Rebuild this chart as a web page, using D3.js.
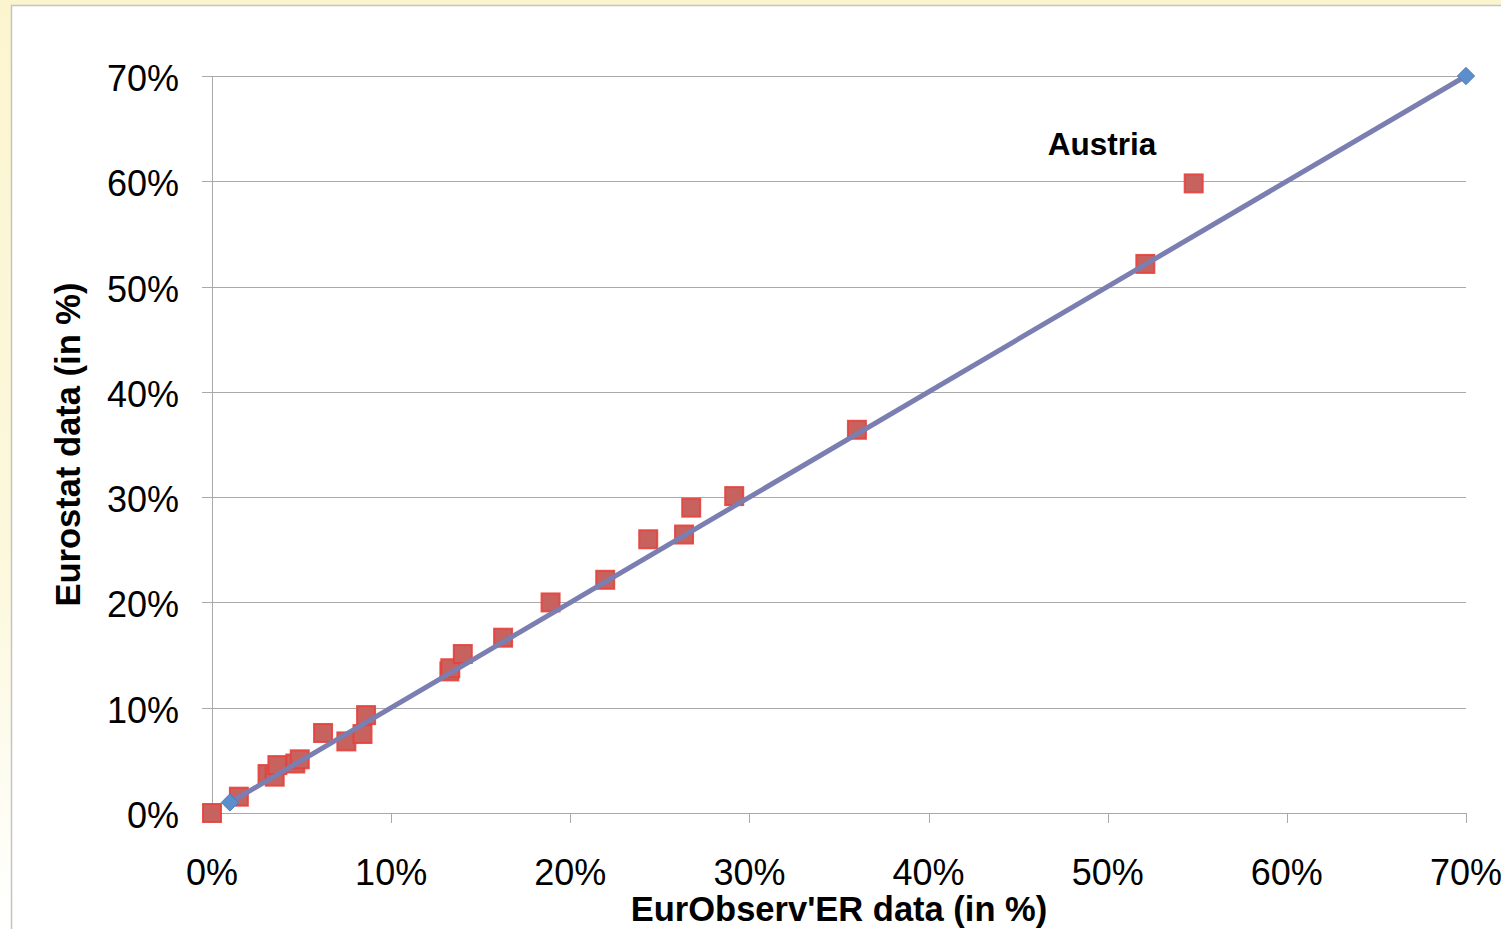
<!DOCTYPE html>
<html>
<head>
<meta charset="utf-8">
<script src="https://cdn.jsdelivr.net/npm/d3@7"></script>
<style>
  html, body { margin: 0; padding: 0; background: #fff; }
  svg { display: block; }
  text { font-family: "Liberation Sans", Arial, sans-serif; fill: #000; }
</style>
</head>
<body>
<svg id="chart" width="1501" height="929"></svg>
<script>
// ---- Data ----
const eurObserver = [0.0, 1.5, 3.1, 3.5, 3.65, 4.65, 4.9, 6.2, 7.5, 8.4, 8.6, 13.25, 13.3, 14.0, 16.25, 18.9, 21.95, 24.35, 26.35, 26.75, 29.15, 36.0, 52.1, 54.8];
const eurostat    = [0.0, 1.55, 3.7, 3.45, 4.55, 4.7, 5.1, 7.6, 6.8, 7.5, 9.3, 13.45, 13.75, 15.1, 16.65, 20.0, 22.15, 26.0, 26.45, 29.0, 30.1, 36.4, 52.15, 59.8];
const refLineX = [1, 70];
const refLineY = [1, 70];
const tickValues = [0, 10, 20, 30, 40, 50, 60, 70];
const tickLabels = ["0%", "10%", "20%", "30%", "40%", "50%", "60%", "70%"];
const annotation = { label: "Austria", x: 46.65, y: 62.5 };
const xTitle = "EurObserv'ER data (in %)";
const yTitle = "Eurostat data (in %)";

// ---- Layout ----
const svg = d3.select("#chart");
const W = 1501, H = 929;
const x = d3.scaleLinear().domain([0, 70]).range([212, 1466]);
const y = d3.scaleLinear().domain([0, 70]).range([813, 76]);

// background
const defs = svg.append("defs");
const grad = defs.append("linearGradient").attr("id", "bg").attr("x1", 0).attr("y1", 0).attr("x2", 0).attr("y2", 1);
grad.append("stop").attr("offset", "0%").attr("stop-color", "#fbf5cf");
grad.append("stop").attr("offset", "60%").attr("stop-color", "#fcf8dc");
grad.append("stop").attr("offset", "100%").attr("stop-color", "#ffffff");
svg.append("rect").attr("width", W).attr("height", H).attr("fill", "url(#bg)");
svg.append("rect").attr("x", 11.5).attr("y", 5.5).attr("width", W).attr("height", H)
  .attr("fill", "#ffffff").attr("stroke", "#c4c4c4").attr("stroke-width", 1.5);

const gridColor = "#a9a9a9";

// horizontal gridlines + y ticks
svg.append("g").selectAll("line").data(tickValues).join("line")
  .attr("x1", x(0) - 10).attr("x2", x(70))
  .attr("y1", d => Math.round(y(d)) + 0.5).attr("y2", d => Math.round(y(d)) + 0.5)
  .attr("stroke", gridColor).attr("stroke-width", 1);

// y axis line
svg.append("line")
  .attr("x1", x(0) + 0.5).attr("x2", x(0) + 0.5)
  .attr("y1", y(70)).attr("y2", y(0) + 10)
  .attr("stroke", gridColor).attr("stroke-width", 1);

// x ticks
svg.append("g").selectAll("line").data(tickValues.slice(1)).join("line")
  .attr("x1", d => Math.round(x(d)) + 0.5).attr("x2", d => Math.round(x(d)) + 0.5)
  .attr("y1", y(0)).attr("y2", y(0) + 10)
  .attr("stroke", gridColor).attr("stroke-width", 1);

// y tick labels
svg.append("g").selectAll("text").data(tickValues).join("text")
  .attr("x", 179).attr("y", d => y(d) + 15)
  .attr("text-anchor", "end").attr("font-size", 36)
  .text((d, i) => tickLabels[i]);

// x tick labels
svg.append("g").selectAll("text").data(tickValues).join("text")
  .attr("x", d => x(d)).attr("y", 885)
  .attr("text-anchor", "middle").attr("font-size", 36)
  .text((d, i) => tickLabels[i]);

// axis titles
svg.append("text")
  .attr("x", (x(0) + x(70)) / 2).attr("y", 921)
  .attr("text-anchor", "middle").attr("font-size", 34.5).attr("font-weight", "bold")
  .text(xTitle);
svg.append("text")
  .attr("transform", `translate(80, ${(y(0) + y(70)) / 2}) rotate(-90)`)
  .attr("text-anchor", "middle").attr("font-size", 34.5).attr("font-weight", "bold")
  .text(yTitle);

// squares
const sq = 18;
svg.append("g").selectAll("rect").data(eurObserver).join("rect")
  .attr("x", (d) => x(d) - sq / 2)
  .attr("y", (d, i) => y(eurostat[i]) - sq / 2)
  .attr("width", sq).attr("height", sq)
  .attr("fill", "#c8625e").attr("stroke", "#e6413d").attr("stroke-width", 2)
  .attr("stroke-opacity", 0.9);

// reference line
const lineData = refLineX.map((v, i) => [v, refLineY[i]]);
svg.append("path").datum(lineData)
  .attr("d", d3.line().x(d => x(d[0])).y(d => y(d[1])))
  .attr("fill", "none").attr("stroke", "#7b7eb0").attr("stroke-width", 5);

// diamonds
svg.append("g").selectAll("path").data(lineData).join("path")
  .attr("d", d3.symbol().type(d3.symbolDiamond2).size(190))
  .attr("transform", d => `translate(${x(d[0])},${y(d[1])})`)
  .attr("fill", "#5b8fcc").attr("stroke", "#5279bd").attr("stroke-width", 1);

// annotation
svg.append("text")
  .attr("x", x(annotation.x)).attr("y", y(annotation.y))
  .attr("font-size", 31.5).attr("font-weight", "bold")
  .text(annotation.label);
</script>
</body>
</html>
